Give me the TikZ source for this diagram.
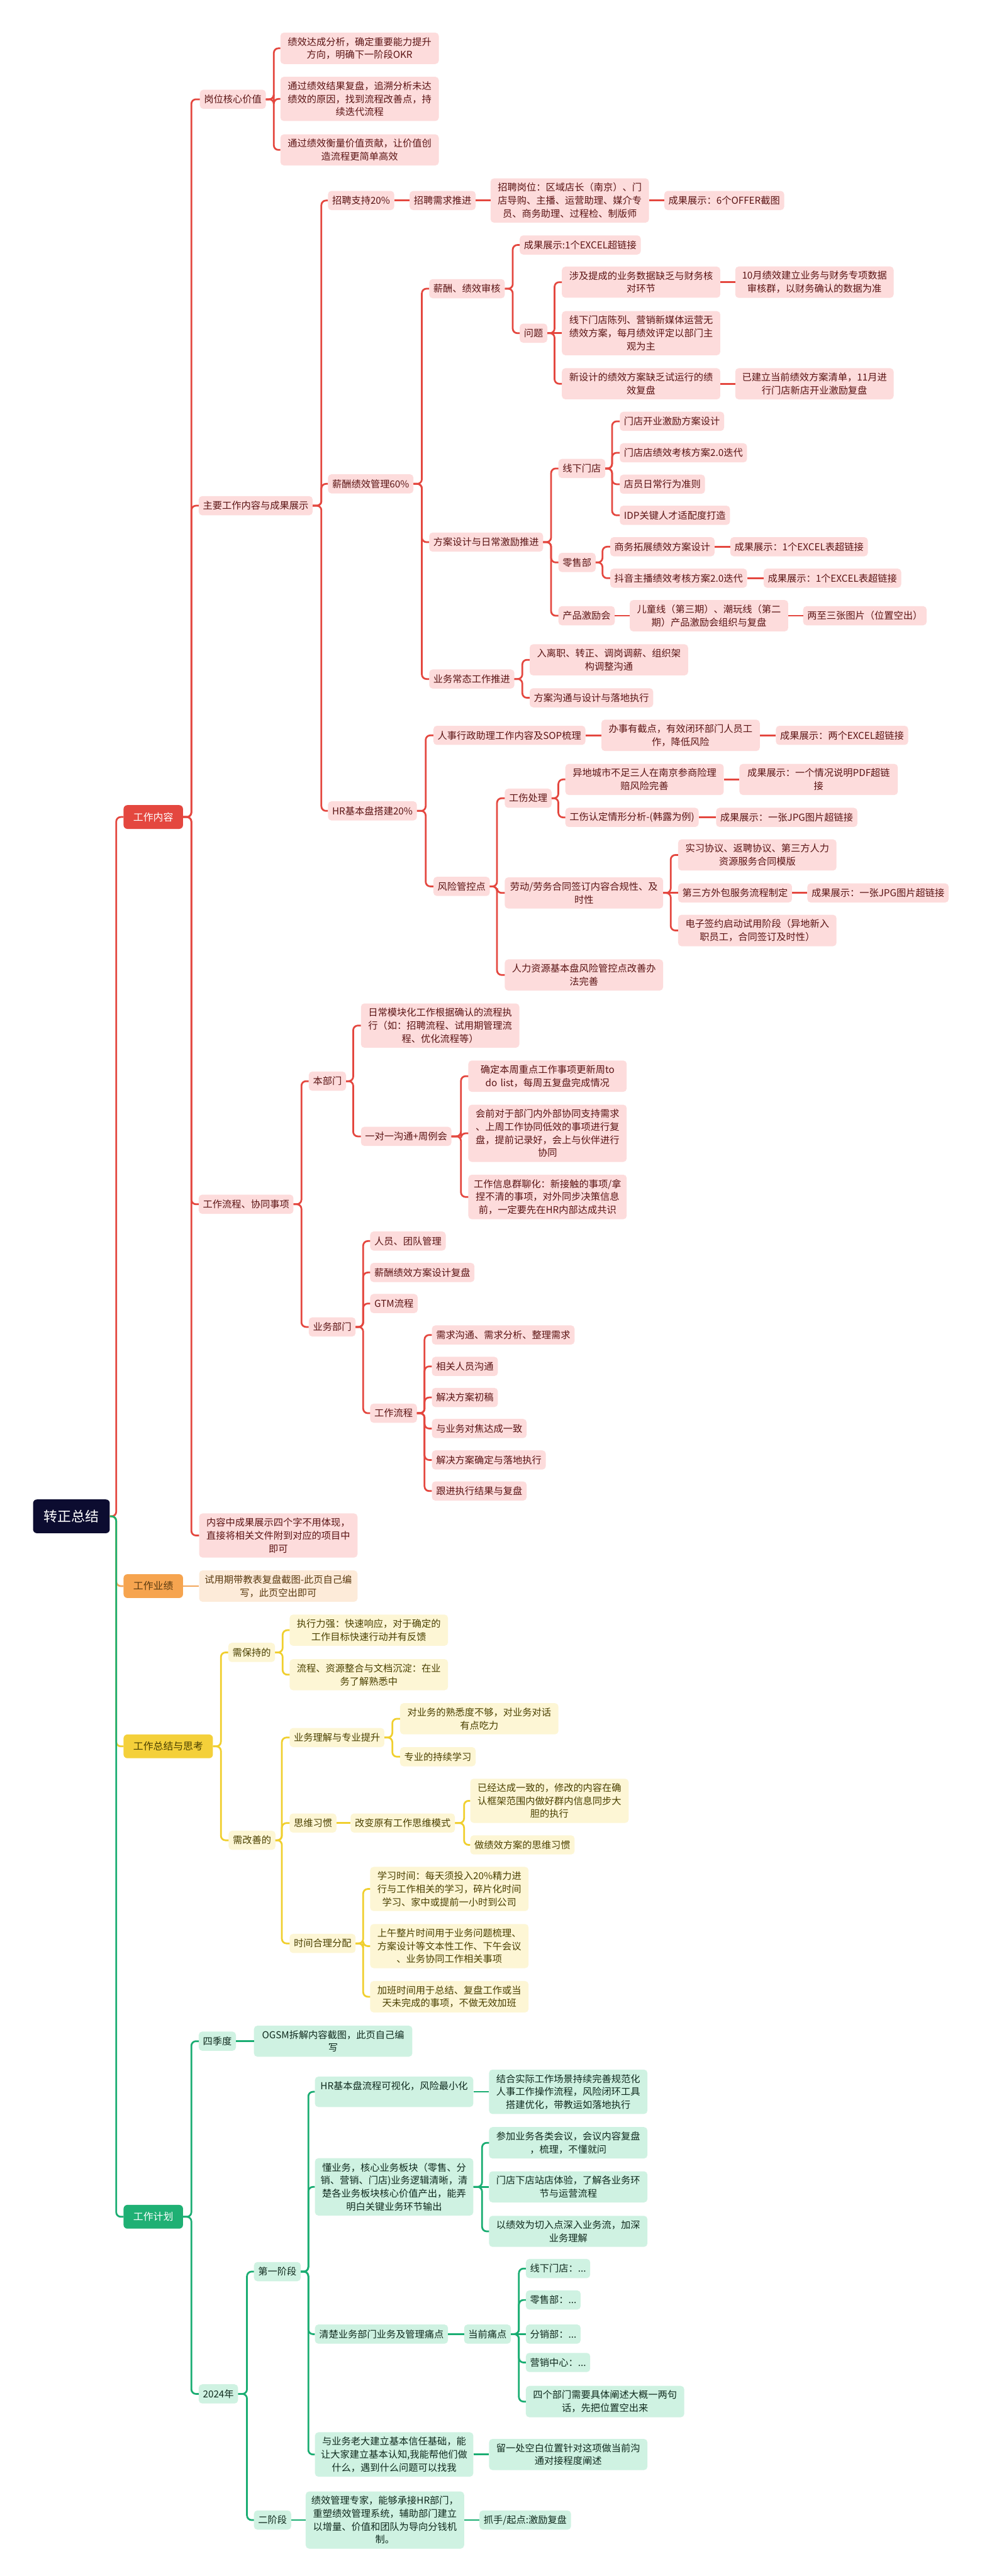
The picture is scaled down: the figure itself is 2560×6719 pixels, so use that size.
\documentclass[tikz,border=0pt]{standalone}
\usepackage{fontspec}
\setmainfont{Noto Sans CJK SC}
\usetikzlibrary{calc}
\definecolor{rline}{HTML}{E4473F}
\definecolor{rsub}{HTML}{FDDCDC}
\definecolor{rtext}{HTML}{5B1414}
\definecolor{oline}{HTML}{F2A65A}
\definecolor{osub}{HTML}{FDEBD9}
\definecolor{otext}{HTML}{5A3A10}
\definecolor{omain}{HTML}{F6A44F}
\definecolor{yline}{HTML}{F0CF2E}
\definecolor{ysub}{HTML}{FDF6D5}
\definecolor{ytext}{HTML}{4A4000}
\definecolor{ymain}{HTML}{F4D03A}
\definecolor{gline}{HTML}{1AAD72}
\definecolor{gsub}{HTML}{CFF2E2}
\definecolor{gtext}{HTML}{102A1E}
\definecolor{gmain}{HTML}{1FB074}
\definecolor{rootc}{HTML}{0C0C30}
\newcommand{\mmelb}[4]{\draw[#1] let \p1=(#2.east) in (\p1) -- (#3,\y1) |- (#4.west);}
\newcommand{\mmlnk}[3]{\draw[#1] (#2.east) -- (#3.west);}
\tikzset{
  base/.style={rounded corners=9pt, inner xsep=11pt, inner ysep=12pt, minimum height=50pt,
    font=\fontsize{25}{34}\selectfont, anchor=west, align=center},
  rb/.style={base, fill=rsub, text=rtext},
  rw/.style={rb, text width=391pt},
  ob/.style={base, fill=osub, text=otext},
  ow/.style={ob, text width=391pt},
  yb/.style={base, fill=ysub, text=ytext},
  yw/.style={yb, text width=391pt},
  gb/.style={base, fill=gsub, text=gtext},
  gw/.style={gb, text width=391pt},
  mainbox/.style={rounded corners=10pt, inner xsep=25.5pt, minimum height=62pt,
    font=\fontsize{26}{34}\selectfont, anchor=west},
  rootbox/.style={rounded corners=10pt, fill=rootc, text=white, minimum width=200pt,
    minimum height=88pt, font=\fontsize{36}{40}\selectfont, anchor=west},
  rl/.style={draw=rline, line width=4.5pt, rounded corners=12pt},
  ol/.style={draw=oline, line width=4.5pt, rounded corners=12pt},
  yl/.style={draw=yline, line width=4.5pt, rounded corners=12pt},
  gl/.style={draw=gline, line width=4.5pt, rounded corners=12pt},
}
\begin{document}
\begin{tikzpicture}[x=1pt,y=-1pt]
\useasboundingbox (0,0) rectangle (2560,6719);
\fill[white] (0,0) rectangle (2560,6719);

% root and main branches
\node[rootbox] (root) at (86,3955) {转正总结};
\node[mainbox, fill=rline, text=white] (wc) at (322,2131) {工作内容};
\node[mainbox, fill=omain, text=otext] (gy) at (322,4137) {工作业绩};
\node[mainbox, fill=ymain, text=ytext] (zj) at (322,4555) {工作总结与思考};
\node[mainbox, fill=gmain, text=white] (jh) at (322,5782) {工作计划};

% ===== red: 工作内容 =====
\node[rb] (gw) at (521,259) {岗位核心价值};
\node[rw] (gw1) at (731,126) {绩效达成分析，确定重要能力提升\\方向，明确下一阶段OKR};
\node[rw] (gw2) at (731,258) {通过绩效结果复盘，追溯分析未达\\绩效的原因，找到流程改善点，持\\续迭代流程};
\node[rw] (gw3) at (731,391) {通过绩效衡量价值贡献，让价值创\\造流程更简单高效};

\node[rb] (zy) at (518,1319) {主要工作内容与成果展示};
\node[rb] (zp) at (855,523) {招聘支持20\%};
\node[rb] (zpx) at (1068,523) {招聘需求推进};
\node[rw] (zpg) at (1279,523) {招聘岗位：区域店长（南京）、门\\店导购、主播、运营助理、媒介专\\员、商务助理、过程检、制版师};
\node[rb] (zpc) at (1732,523) {成果展示：6个OFFER截图};

\node[rb] (xc) at (855,1262) {薪酬绩效管理60\%};
\node[rb] (xs) at (1119,753) {薪酬、绩效审核};
\node[rb] (xs1) at (1355,639) {成果展示:1个EXCEL超链接};
\node[rb] (wt) at (1355,869) {问题};
\node[rw] (wt1) at (1465,736) {涉及提成的业务数据缺乏与财务核\\对环节};
\node[rw] (wt1a) at (1917,736) {10月绩效建立业务与财务专项数据\\审核群，以财务确认的数据为准};
\node[rw] (wt2) at (1465,869) {线下门店陈列、营销新媒体运营无\\绩效方案，每月绩效评定以部门主\\观为主};
\node[rw] (wt3) at (1465,1001) {新设计的绩效方案缺乏试运行的绩\\效复盘};
\node[rw] (wt3a) at (1917,1001) {已建立当前绩效方案清单，11月进\\行门店新店开业激励复盘};

\node[rb] (fa) at (1119,1414) {方案设计与日常激励推进};
\node[rb] (xx) at (1456,1222) {线下门店};
\node[rb] (xx1) at (1616,1099) {门店开业激励方案设计};
\node[rb] (xx2) at (1616,1181) {门店店绩效考核方案2.0迭代};
\node[rb] (xx3) at (1616,1263) {店员日常行为准则};
\node[rb] (xx4) at (1616,1344) {IDP关键人才适配度打造};
\node[rb] (ls) at (1456,1467) {零售部};
\node[rb] (ls1) at (1591,1426) {商务拓展绩效方案设计};
\node[rb] (ls1a) at (1904,1426) {成果展示：1个EXCEL表超链接};
\node[rb] (ls2) at (1591,1508) {抖音主播绩效考核方案2.0迭代};
\node[rb] (ls2a) at (1991,1508) {成果展示：1个EXCEL表超链接};
\node[rb] (cp) at (1456,1606) {产品激励会};
\node[rw] (cp1) at (1642,1606) {儿童线（第三期）、潮玩线（第二\\期）产品激励会组织与复盘};
\node[rb] (cp2) at (2094,1606) {两至三张图片（位置空出）};

\node[rb] (yw) at (1119,1771) {业务常态工作推进};
\node[rw] (yw1) at (1381,1721) {入离职、转正、调岗调薪、组织架\\构调整沟通};
\node[rb] (yw2) at (1381,1820) {方案沟通与设计与落地执行};

\node[rb] (hr) at (855,2115) {HR基本盘搭建20\%};
\node[rb] (rs) at (1130,1918) {人事行政助理工作内容及SOP梳理};
\node[rw] (rs1) at (1568,1918) {办事有截点，有效闭环部门人员工\\作，降低风险};
\node[rb] (rs2) at (2023,1918) {成果展示：两个EXCEL超链接};
\node[rb] (fx) at (1130,2312) {风险管控点};
\node[rb] (gs) at (1316,2082) {工伤处理};
\node[rw] (gs1) at (1474,2033) {异地城市不足三人在南京参商险理\\赔风险完善};
\node[rw] (gs1a) at (1928,2033) {成果展示：一个情况说明PDF超链\\接};
\node[rb] (gs2) at (1474,2132) {工伤认定情形分析-(韩露为例)};
\node[rb] (gs2a) at (1867,2132) {成果展示：一张JPG图片超链接};
\node[rw] (ld) at (1316,2329) {劳动/劳务合同签订内容合规性、及\\时性};
\node[rw] (ld1) at (1768,2230) {实习协议、返聘协议、第三方人力\\资源服务合同模版};
\node[rb] (ld2) at (1768,2329) {第三方外包服务流程制定};
\node[rb] (ld2a) at (2105,2329) {成果展示：一张JPG图片超链接};
\node[rw] (ld3) at (1768,2427) {电子签约启动试用阶段（异地新入\\职员工，合同签订及时性）};
\node[rw] (rl) at (1316,2543) {人力资源基本盘风险管控点改善办\\法完善};

\node[rb] (lc) at (518,3141) {工作流程、协同事项};
\node[rb] (bb) at (805,2820) {本部门};
\node[rw] (bb1) at (941,2675) {日常模块化工作根据确认的流程执\\行（如：招聘流程、试用期管理流\\程、优化流程等）};
\node[rb] (bb2) at (941,2964) {一对一沟通+周例会};
\node[rw] (bb2a) at (1221,2807) {确定本周重点工作事项更新周to\\do list，每周五复盘完成情况};
\node[rw] (bb2b) at (1221,2956) {会前对于部门内外部协同支持需求\\、上周工作协同低效的事项进行复\\盘，提前记录好，会上与伙伴进行\\协同};
\node[rw] (bb2c) at (1221,3122) {工作信息群聊化：新接触的事项/拿\\捏不清的事项，对外同步决策信息\\前，一定要先在HR内部达成共识};
\node[rb] (yb) at (805,3461) {业务部门};
\node[rb] (yb1) at (965,3237) {人员、团队管理};
\node[rb] (yb2) at (965,3319) {薪酬绩效方案设计复盘};
\node[rb] (yb3) at (965,3400) {GTM流程};
\node[rb] (yb4) at (965,3686) {工作流程};
\node[rb] (lw1) at (1126,3482) {需求沟通、需求分析、整理需求};
\node[rb] (lw2) at (1126,3564) {相关人员沟通};
\node[rb] (lw3) at (1126,3645) {解决方案初稿};
\node[rb] (lw4) at (1126,3726) {与业务对焦达成一致};
\node[rb] (lw5) at (1126,3808) {解决方案确定与落地执行};
\node[rb] (lw6) at (1126,3889) {跟进执行结果与复盘};
\node[rw] (nr) at (519,4005) {内容中成果展示四个字不用体现，\\直接将相关文件附到对应的项目中\\即可};

% ===== orange =====
\node[ow] (gy1) at (519,4137) {试用期带教表复盘截图-此页自己编\\写，此页空出即可};

% ===== yellow =====
\node[yb] (kp) at (595,4310) {需保持的};
\node[yw] (kp1) at (755,4252) {执行力强：快速响应，对于确定的\\工作目标快速行动并有反馈};
\node[yw] (kp2) at (755,4368) {流程、资源整合与文档沉淀：在业\\务了解熟悉中};
\node[yb] (im) at (596,4800) {需改善的};
\node[yb] (ym) at (755,4532) {业务理解与专业提升};
\node[yw] (ym1) at (1043,4483) {对业务的熟悉度不够，对业务对话\\有点吃力};
\node[yb] (ym2) at (1043,4582) {专业的持续学习};
\node[yb] (sw) at (755,4755) {思维习惯};
\node[yb] (sw1) at (914,4755) {改变原有工作思维模式};
\node[yw] (sw1a) at (1226,4697) {已经达成一致的，修改的内容在确\\认框架范围内做好群内信息同步大\\胆的执行};
\node[yb] (sw1b) at (1226,4812) {做绩效方案的思维习惯};
\node[yb] (sj) at (755,5069) {时间合理分配};
\node[yw] (sj1) at (965,4927) {学习时间：每天须投入20\%精力进\\行与工作相关的学习，碎片化时间\\学习、家中或提前一小时到公司};
\node[yw] (sj2) at (965,5076) {上午整片时间用于业务问题梳理、\\方案设计等文本性工作、下午会议\\、业务协同工作相关事项};
\node[yw] (sj3) at (965,5208) {加班时间用于总结、复盘工作或当\\天未完成的事项，不做无效加班};

% ===== green =====
\node[gb] (q4) at (518,5324) {四季度};
\node[gw] (q4a) at (662,5324) {OGSM拆解内容截图，此页自己编\\写};
\node[gb] (y24) at (518,6244) {2024年};
\node[gb] (p1) at (662,5925) {第一阶段};
\node[gw] (g1) at (821,5456) {HR基本盘流程可视化，风险最小化\\\mbox{}};
\node[gw] (g1a) at (1275,5456) {结合实际工作场景持续完善规范化\\人事工作操作流程，风险闭环工具\\搭建优化，带教运如落地执行};
\node[gw] (g2) at (821,5704) {懂业务，核心业务板块（零售、分\\销、营销、门店)业务逻辑清晰，清\\楚各业务板块核心价值产出，能弄\\明白关键业务环节输出};
\node[gw] (g2a) at (1275,5589) {参加业务各类会议，会议内容复盘\\，梳理，不懂就问};
\node[gw] (g2b) at (1275,5704) {门店下店站店体验，了解各业务环\\节与运营流程};
\node[gw] (g2c) at (1275,5820) {以绩效为切入点深入业务流，加深\\业务理解};
\node[gb] (g3) at (821,6088) {清楚业务部门业务及管理痛点};
\node[gb] (g3a) at (1210,6088) {当前痛点};
\node[gb] (t1) at (1371,5917) {线下门店：...};
\node[gb] (t2) at (1371,5999) {零售部：...};
\node[gb] (t3) at (1371,6088) {分销部：...};
\node[gb] (t4) at (1371,6162) {营销中心：...};
\node[gw] (t5) at (1371,6264) {四个部门需要具体阐述大概一两句\\话，先把位置空出来};
\node[gw] (g4) at (821,6402) {与业务老大建立基本信任基础，能\\让大家建立基本认知,我能帮他们做\\什么，遇到什么问题可以找我};
\node[gw] (g4a) at (1275,6402) {留一处空白位置针对这项做当前沟\\通对接程度阐述};
\node[gb] (p2) at (662,6573) {二阶段};
\node[gw] (p2a) at (797,6573) {绩效管理专家，能够承接HR部门，\\重塑绩效管理系统，辅助部门建立\\以增量、价值和团队为导向分钱机\\制。};
\node[gb] (p2b) at (1250,6573) {抓手/起点:激励复盘};

% ===== connectors =====
\mmelb{rl}{root}{303}{wc}
\mmelb{ol}{root}{303}{gy}
\mmelb{yl}{root}{303}{zj}
\mmelb{gl}{root}{303}{jh}

\foreach \c in {gw,zy,lc,nr} {\mmelb{rl}{wc}{499}{\c}}
\foreach \c in {gw1,gw2,gw3} {\mmelb{rl}{gw}{714}{\c}}
\foreach \c in {zp,xc,hr} {\mmelb{rl}{zy}{838}{\c}}
\mmlnk{rl}{zp}{zpx}
\mmlnk{rl}{zpx}{zpg}
\mmlnk{rl}{zpg}{zpc}
\foreach \c in {xs,fa,yw} {\mmelb{rl}{xc}{1100}{\c}}
\foreach \c in {xs1,wt} {\mmelb{rl}{xs}{1337}{\c}}
\foreach \c in {wt1,wt3} {\mmelb{rl}{wt}{1446}{\c}}
\mmlnk{rl}{wt}{wt2}
\mmlnk{rl}{wt1}{wt1a}
\mmlnk{rl}{wt3}{wt3a}
\foreach \c in {xx,ls,cp} {\mmelb{rl}{fa}{1437}{\c}}
\foreach \c in {xx1,xx2,xx3,xx4} {\mmelb{rl}{xx}{1596}{\c}}
\foreach \c in {ls1,ls2} {\mmelb{rl}{ls}{1571}{\c}}
\mmlnk{rl}{ls1}{ls1a}
\mmlnk{rl}{ls2}{ls2a}
\mmlnk{rl}{cp}{cp1}
\mmlnk{rl}{cp1}{cp2}
\foreach \c in {yw1,yw2} {\mmelb{rl}{yw}{1362}{\c}}
\foreach \c in {rs,fx} {\mmelb{rl}{hr}{1110}{\c}}
\mmlnk{rl}{rs}{rs1}
\mmlnk{rl}{rs1}{rs2}
\foreach \c in {gs,ld,rl} {\mmelb{rl}{fx}{1296}{\c}}
\foreach \c in {gs1,gs2} {\mmelb{rl}{gs}{1456}{\c}}
\mmlnk{rl}{gs1}{gs1a}
\mmlnk{rl}{gs2}{gs2a}
\foreach \c in {ld1,ld3} {\mmelb{rl}{ld}{1749}{\c}}
\mmlnk{rl}{ld}{ld2}
\mmlnk{rl}{ld2}{ld2a}
\foreach \c in {bb,yb} {\mmelb{rl}{lc}{786}{\c}}
\foreach \c in {bb1,bb2} {\mmelb{rl}{bb}{921}{\c}}
\foreach \c in {bb2a,bb2b,bb2c} {\mmelb{rl}{bb2}{1202}{\c}}
\foreach \c in {yb1,yb2,yb3,yb4} {\mmelb{rl}{yb}{947}{\c}}
\foreach \c in {lw1,lw2,lw3,lw4,lw5,lw6} {\mmelb{rl}{yb4}{1107}{\c}}

\mmlnk{ol}{gy}{gy1}

\foreach \c in {kp,im} {\mmelb{yl}{zj}{576}{\c}}
\foreach \c in {kp1,kp2} {\mmelb{yl}{kp}{737}{\c}}
\foreach \c in {ym,sw,sj} {\mmelb{yl}{im}{735}{\c}}
\foreach \c in {ym1,ym2} {\mmelb{yl}{ym}{1023}{\c}}
\mmlnk{yl}{sw}{sw1}
\foreach \c in {sw1a,sw1b} {\mmelb{yl}{sw1}{1210}{\c}}
\foreach \c in {sj1,sj2,sj3} {\mmelb{yl}{sj}{947}{\c}}

\foreach \c in {q4,y24} {\mmelb{gl}{jh}{499}{\c}}
\mmlnk{gl}{q4}{q4a}
\foreach \c in {p1,p2} {\mmelb{gl}{y24}{644}{\c}}
\foreach \c in {g1,g2,g3,g4} {\mmelb{gl}{p1}{804}{\c}}
\mmlnk{gl}{g1}{g1a}
\foreach \c in {g2a,g2c} {\mmelb{gl}{g2}{1257}{\c}}
\mmlnk{gl}{g2}{g2b}
\mmlnk{gl}{g3}{g3a}
\foreach \c in {t1,t2,t4,t5} {\mmelb{gl}{g3a}{1353}{\c}}
\mmlnk{gl}{g3a}{t3}
\mmlnk{gl}{g4}{g4a}
\mmlnk{gl}{p2}{p2a}
\mmlnk{gl}{p2a}{p2b}
\end{tikzpicture}
\end{document}
